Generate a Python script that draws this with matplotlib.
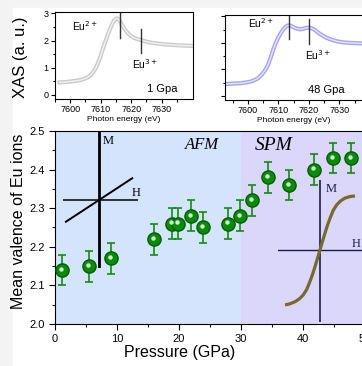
import numpy as np
import matplotlib
matplotlib.use('Agg')
import matplotlib.pyplot as plt
from matplotlib.patches import Rectangle
from matplotlib.transforms import offset_copy

plt.rcParams['font.family'] = ['Liberation Sans', 'DejaVu Sans']

# Mean valence vs pressure
pressure = [1.1, 5.5, 9.0, 16.0, 18.9, 19.9, 21.9, 23.9, 27.9, 29.8, 31.8, 34.4, 37.7, 41.8, 44.8, 47.7]
valence = [2.14, 2.15, 2.17, 2.22, 2.26, 2.26, 2.28, 2.25, 2.26, 2.28, 2.32, 2.38, 2.36, 2.40, 2.43, 2.43]
valence_err = [0.04] * len(pressure)

# XAS spectrum at 1 GPa
energy_1 = [7596.5, 7599.0, 7601.3, 7603.5, 7605.5, 7606.6, 7607.6, 7608.7, 7609.7, 7610.5,
            7611.3, 7612.1, 7612.9, 7613.7, 7614.5, 7615.1, 7615.6, 7616.3, 7617.1, 7617.9,
            7618.7, 7619.7, 7620.8, 7622.1, 7623.5, 7625.0, 7626.7, 7628.7, 7630.9, 7633.5,
            7636.2, 7640.4]
xas_1 = [0.46, 0.48, 0.51, 0.55, 0.63, 0.72, 0.85, 1.06, 1.34, 1.62,
         1.89, 2.14, 2.38, 2.60, 2.75, 2.81, 2.81, 2.72, 2.56, 2.42,
         2.30, 2.19, 2.11, 2.05, 2.01, 1.96, 1.92, 1.89, 1.86, 1.84,
         1.82, 1.80]

# XAS spectrum at 48 GPa
energy_48 = [7592.5, 7597.4, 7600.0, 7601.7, 7603.2, 7604.5, 7605.7, 7606.7, 7607.5, 7608.3,
             7609.1, 7609.9, 7610.8, 7611.6, 7612.4, 7613.2, 7614.0, 7614.8, 7615.9, 7617.0,
             7618.1, 7619.2, 7620.1, 7620.9, 7622.0, 7623.1, 7624.4, 7625.8, 7627.4, 7629.1,
             7631.2, 7633.4, 7637.7]
xas_48 = [0.45, 0.48, 0.52, 0.57, 0.66, 0.80, 0.98, 1.20, 1.46, 1.75,
          1.99, 2.19, 2.37, 2.51, 2.61, 2.66, 2.65, 2.60, 2.54, 2.51,
          2.53, 2.57, 2.57, 2.55, 2.48, 2.38, 2.28, 2.19, 2.12, 2.06,
          2.02, 2.00, 1.98]

# Eu2+/Eu3+ marker positions (energy, y-bottom, y-top)
marks_1 = [(7616.3, 2.08, 3.0), (7623.3, 1.53, 2.44)]
marks_48 = [(7613.4, 2.13, 3.08), (7619.9, 1.94, 2.89)]

# schematic M-H curves
afm_h = [-0.92, 0.92]
afm_m = [-0.32, 0.32]
spm_h = [-1.0, -0.86, -0.71, -0.59, -0.48, -0.38, -0.29, -0.21, -0.14, -0.07, 0.0,
         0.07, 0.14, 0.21, 0.29, 0.38, 0.48, 0.59, 0.71, 0.86, 1.0]
spm_m = [-1.0, -0.98, -0.94, -0.89, -0.82, -0.72, -0.58, -0.44, -0.30, -0.15, 0.0,
         0.15, 0.30, 0.44, 0.58, 0.72, 0.82, 0.89, 0.94, 0.97, 0.98]

W, H = 362, 366
fig = plt.figure(figsize=(W / 100, H / 100), dpi=100, facecolor='#f3f3f3')
fig.patches.append(Rectangle((13 / W, 0), 1, (H - 8) / H, transform=fig.transFigure,
                             color='white', zorder=-5))


def box(l, t, r, b):
    return [l / W, (H - b) / H, (r - l) / W, (b - t) / H]


# ---- main panel
ax = fig.add_axes(box(55, 131, 365, 324))
ax.axvspan(0, 30, color='#d4e4fc', lw=0, zorder=0)
ax.axvspan(30, 50, color='#dad7fa', lw=0, zorder=0)
ax.errorbar(pressure, valence, yerr=valence_err, fmt='o', color='#0b8a0b', ecolor='#138a13',
            mec='#006000', ms=9.5, elinewidth=1.2, capsize=3, capthick=1.2, zorder=3)
hl = offset_copy(ax.transData, fig=fig, x=-0.8, y=1.0, units='points')
ax.plot(pressure, valence, 'o', ms=3.2, color='#cfeecf', mec='none', transform=hl, zorder=4)
ax.set_xlim(0, 50)
ax.set_ylim(2.0, 2.5)
ax.set_xticks([0, 10, 20, 30, 40, 50])
ax.set_xticks(np.arange(5, 50, 10), minor=True)
ax.set_yticks([2.0, 2.1, 2.2, 2.3, 2.4, 2.5])
ax.set_yticks(np.arange(2.05, 2.5, 0.1), minor=True)
ax.tick_params(labelsize=8, length=4, width=0.8)
ax.tick_params(which='minor', length=2.5, width=0.8)
ax.set_xlabel('Pressure (GPa)', fontsize=11.5)
ax.set_ylabel('Mean valence of Eu ions', fontsize=11.5)
ax.xaxis.set_label_coords((180 - 55) / 310, -0.11)
ax.yaxis.set_label_coords(-0.095, 0.53)
ax.text(23.7, 2.453, 'AFM', family='Liberation Serif', style='italic', fontsize=12, ha='center')
ax.text(35.3, 2.45, 'SPM', family='Liberation Serif', style='italic', fontsize=14, ha='center')

# AFM schematic
a1 = fig.add_axes(box(63, 132, 138, 268))
a1.axis('off')
a1.set_xlim(-1, 1.08)
a1.set_ylim(-1, 1)
a1.axvline(0, color='black', lw=2)
a1.axhline(0, color='black', lw=1.1)
a1.plot(afm_h, afm_m, color='black', lw=1.4)
a1.text(0.1, 0.83, 'M', family='Liberation Serif', fontsize=9)
a1.text(0.9, 0.06, 'H', family='Liberation Serif', fontsize=9)

# SPM schematic
a2 = fig.add_axes(box(278, 180, 370, 322))
a2.axis('off')
a2.set_xlim(-1.2, 1.43)
a2.set_ylim(-1.31, 1.27)
a2.axvline(0, color='#1c1c40', lw=1.2)
a2.axhline(0, color='#1c1c40', lw=1.0)
a2.plot(spm_h, spm_m, color='#766a2c', lw=2.3, solid_capstyle='butt')
a2.text(0.15, 1.05, 'M', family='Liberation Serif', fontsize=9, color='#1c1c40')
a2.text(0.92, 0.06, 'H', family='Liberation Serif', fontsize=9, color='#1c1c40')


# ---- XAS insets
def xas_panel(rect, energy, xas, marks, outer, inner, lab2, lab3, plab, xlim, show_y):
    a = fig.add_axes(rect)
    a.plot(energy, xas, color=outer, lw=3.0)
    a.plot(energy, xas, color=inner, lw=1.1)
    for e, y0, y1 in marks:
        a.plot([e, e], [y0, y1], color='#333333', lw=1.0)
    a.set_xlim(*xlim)
    a.set_ylim(-0.15, 3.05)
    a.set_xticks([7600, 7610, 7620, 7630])
    a.set_xticks([7595, 7605, 7615, 7625, 7635], minor=True)
    a.set_yticks([0, 1, 2, 3])
    a.set_yticks([0.5, 1.5, 2.5], minor=True)
    a.tick_params(labelsize=6.5, length=3, width=0.8, pad=1.5)
    a.tick_params(which='minor', length=1.8, width=0.8)
    if not show_y:
        a.set_yticklabels([])
    a.set_xlabel('Photon energy (eV)', fontsize=6, labelpad=1)
    a.text(*lab2, 'Eu$^{2+}$', transform=a.transAxes, fontsize=7.5)
    a.text(*lab3, 'Eu$^{3+}$', transform=a.transAxes, fontsize=7.5)
    a.text(*plab, transform=a.transAxes, fontsize=8)
    return a


xas_panel(box(55, 12, 193, 99), energy_1, xas_1, marks_1, '#c9c9c9', '#f0f0f0',
          (0.12, 0.78), (0.56, 0.35), (0.67, 0.08, '1 Gpa'), (7596.5, 7640.3), True)
xas_panel(box(225, 15, 363, 100), energy_48, xas_48, marks_48, '#a2a2f2', '#e2e2fb',
          (0.17, 0.85), (0.58, 0.47), (0.60, 0.08, '48 Gpa'), (7592.5, 7637.7), False)
fig.text(21 / W, (H - 57) / H, 'XAS (a. u.)', rotation=90, fontsize=12,
         ha='center', va='center')

fig.savefig('out.png', dpi=100, facecolor=fig.get_facecolor())
